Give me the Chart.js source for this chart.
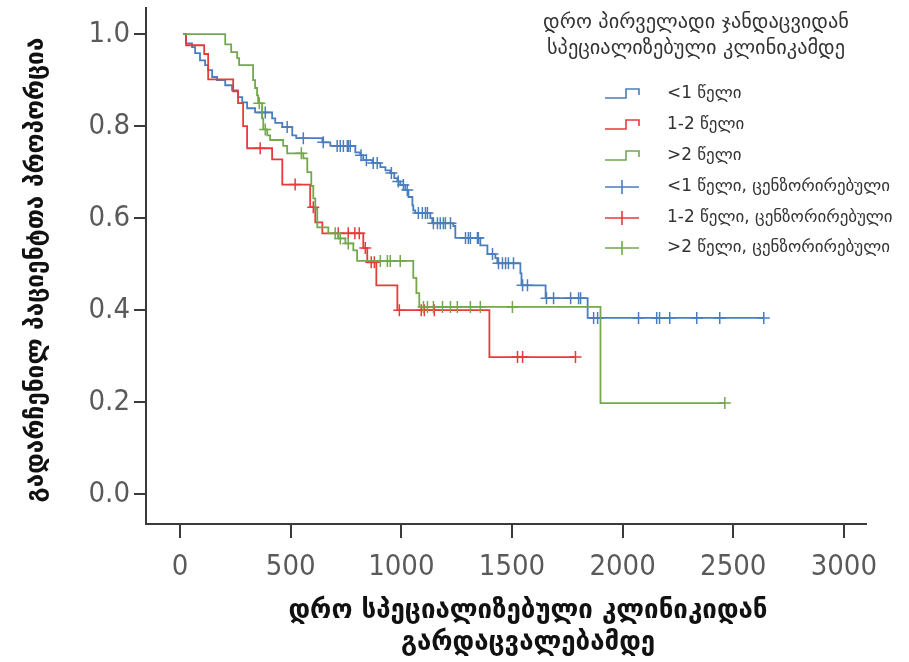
<!DOCTYPE html>
<html>
<head>
<meta charset="utf-8">
<script src="https://cdn.jsdelivr.net/npm/chart.js@4.4.0/dist/chart.umd.min.js"></script>
<style>
html,body{margin:0;padding:0;background:#ffffff;}
#wrap{width:909px;height:662px;position:relative;}
</style>
</head>
<body>
<div id="wrap"><canvas id="c" width="909" height="662"></canvas></div>
<script>
// ---------- text ----------
const yAxisTitle = 'გადარჩენილ პაციენტთა პროპორცია';
const xAxisTitle = ['დრო სპეციალიზებული კლინიკიდან', 'გარდაცვალებამდე'];
const legendTitle = ['დრო პირველადი ჯანდაცვიდან', 'სპეციალიზებული კლინიკამდე'];
const groupNames = ['<1 წელი', '1-2 წელი', '>2 წელი'];
const censorNames = ['<1 წელი, ცენზორირებული', '1-2 წელი, ცენზორირებული', '>2 წელი, ცენზორირებული'];

// ---------- ticks ----------
const xTickValues = [0, 500, 1000, 1500, 2000, 2500, 3000];
const yTickValues = [0, 0.2, 0.4, 0.6, 0.8, 1.0];

// ---------- <1 year ----------
const lt1Times = [14, 27, 54, 68, 90, 113, 127, 145, 167, 204, 235, 262, 281, 303, 339, 416, 430, 462, 507, 525, 643, 679, 792, 814, 828, 869, 905, 928, 950, 968, 982, 995, 1018, 1032, 1050, 1054, 1063, 1131, 1140, 1235, 1244, 1357, 1389, 1425, 1434, 1538, 1543, 1652, 1842, 2638];
const lt1Surv = [1.0, 0.980, 0.972, 0.959, 0.943, 0.933, 0.922, 0.907, 0.900, 0.889, 0.878, 0.863, 0.852, 0.839, 0.830, 0.817, 0.807, 0.798, 0.780, 0.774, 0.765, 0.757, 0.743, 0.737, 0.726, 0.720, 0.711, 0.704, 0.698, 0.687, 0.680, 0.672, 0.661, 0.646, 0.628, 0.617, 0.611, 0.600, 0.589, 0.583, 0.557, 0.541, 0.522, 0.513, 0.502, 0.480, 0.454, 0.426, 0.383, 0.383];
const lt1CensorTimes = [371, 385, 484, 557, 647, 710, 724, 738, 756, 760, 769, 818, 842, 873, 891, 955, 986, 1009, 1027, 1077, 1095, 1109, 1118, 1145, 1163, 1176, 1190, 1199, 1222, 1290, 1303, 1312, 1344, 1348, 1412, 1439, 1457, 1471, 1484, 1507, 1548, 1570, 1656, 1688, 1765, 1801, 1810, 1869, 1887, 2072, 2154, 2167, 2213, 2335, 2439, 2638];
const lt1CensorSurv = [0.830, 0.830, 0.798, 0.774, 0.765, 0.757, 0.757, 0.757, 0.757, 0.757, 0.757, 0.737, 0.726, 0.720, 0.720, 0.698, 0.680, 0.672, 0.661, 0.611, 0.611, 0.611, 0.611, 0.589, 0.589, 0.589, 0.589, 0.589, 0.589, 0.557, 0.557, 0.557, 0.557, 0.557, 0.522, 0.502, 0.502, 0.502, 0.502, 0.502, 0.454, 0.454, 0.426, 0.426, 0.426, 0.426, 0.426, 0.383, 0.383, 0.383, 0.383, 0.383, 0.383, 0.383, 0.383, 0.383];

// ---------- 1-2 years ----------
const y12Times = [14, 27, 109, 127, 240, 262, 285, 303, 416, 462, 588, 611, 643, 828, 846, 887, 982, 1398, 1787];
const y12Surv = [1.0, 0.976, 0.957, 0.902, 0.876, 0.850, 0.800, 0.752, 0.728, 0.673, 0.624, 0.591, 0.567, 0.535, 0.504, 0.454, 0.400, 0.298, 0.298];
const y12CensorTimes = [362, 520, 602, 715, 760, 790, 810, 837, 864, 878, 991, 1090, 1104, 1149, 1525, 1548, 1787];
const y12CensorSurv = [0.752, 0.673, 0.624, 0.567, 0.567, 0.567, 0.567, 0.535, 0.504, 0.504, 0.400, 0.400, 0.400, 0.400, 0.298, 0.298, 0.298];

// ---------- >2 years ----------
const gt2Times = [14, 204, 231, 258, 267, 330, 339, 348, 353, 371, 376, 394, 407, 466, 484, 557, 575, 593, 602, 611, 620, 670, 715, 747, 783, 800, 1054, 1068, 1081, 1900, 2462];
const gt2Surv = [1.0, 0.978, 0.961, 0.948, 0.933, 0.900, 0.883, 0.867, 0.850, 0.817, 0.793, 0.780, 0.770, 0.757, 0.741, 0.730, 0.700, 0.670, 0.643, 0.620, 0.580, 0.567, 0.556, 0.545, 0.530, 0.507, 0.470, 0.437, 0.407, 0.198, 0.198];
const gt2CensorTimes = [358, 385, 548, 701, 724, 760, 905, 937, 950, 995, 1100, 1118, 1145, 1186, 1222, 1253, 1312, 1357, 1502, 2462];
const gt2CensorSurv = [0.850, 0.793, 0.741, 0.567, 0.556, 0.545, 0.507, 0.507, 0.507, 0.507, 0.407, 0.407, 0.407, 0.407, 0.407, 0.407, 0.407, 0.407, 0.407, 0.198];

// ---------- styling ----------
const colors = ['#4a7dbd', '#e53b3b', '#74a84c'];
const tickFamily = "'DejaVu Sans Condensed', 'DejaVu Sans', sans-serif";
const textFamily = "'DejaVu Sans', sans-serif";

function pts(xs, ys) { return xs.map((x, i) => ({ x: x, y: ys[i] })); }

const curveSets = [[lt1Times, lt1Surv], [y12Times, y12Surv], [gt2Times, gt2Surv]];
const censorSets = [[lt1CensorTimes, lt1CensorSurv], [y12CensorTimes, y12CensorSurv], [gt2CensorTimes, gt2CensorSurv]];

const datasets = [];
curveSets.forEach((s, i) => {
  datasets.push({
    label: groupNames[i],
    data: pts(s[0], s[1]),
    borderColor: colors[i],
    backgroundColor: colors[i],
    borderWidth: 1.8,
    stepped: 'before',
    pointRadius: 0,
    fill: false,
    order: 3 - i
  });
});
censorSets.forEach((s, i) => {
  datasets.push({
    label: censorNames[i],
    data: pts(s[0], s[1]),
    borderColor: colors[i],
    backgroundColor: colors[i],
    showLine: false,
    pointStyle: 'cross',
    pointRadius: 6,
    pointBorderWidth: 1.5,
    order: 3 - i
  });
});

const decor = {
  id: 'decor',
  afterDraw(chart) {
    const ctx = chart.ctx;
    ctx.save();
    function fit(text, weight, target) {
      ctx.font = weight + ' 20px ' + textFamily;
      const w = ctx.measureText(text).width;
      return 20 * target / w;
    }
    // legend title
    ctx.fillStyle = '#333333';
    ctx.textAlign = 'center';
    ctx.textBaseline = 'middle';
    const ltSize = fit(legendTitle[0], 'normal', 306);
    ctx.font = 'normal ' + ltSize.toFixed(2) + 'px ' + textFamily;
    ctx.fillText(legendTitle[0], 696, 23);
    ctx.fillText(legendTitle[1], 696, 49);

    // legend items
    const itemSize = fit(censorNames[0], 'normal', 223);
    ctx.font = 'normal ' + itemSize.toFixed(2) + 'px ' + textFamily;
    ctx.textAlign = 'left';
    const rowY = [94, 125, 156, 187, 218, 248];
    const ds = chart.data.datasets;
    ds.forEach((d, i) => {
      const y = rowY[i];
      ctx.strokeStyle = d.borderColor;
      ctx.lineWidth = 1.6;
      ctx.beginPath();
      if (d.showLine === false) {
        ctx.moveTo(605, y); ctx.lineTo(639, y);
        ctx.moveTo(622, y - 7); ctx.lineTo(622, y + 7);
      } else {
        ctx.moveTo(605, y + 4); ctx.lineTo(626, y + 4); ctx.lineTo(626, y - 5);
        ctx.lineTo(639, y - 5); ctx.lineTo(639, y + 1);
      }
      ctx.stroke();
      ctx.fillStyle = '#333333';
      ctx.fillText(d.label, 667, y);
    });

    // x title
    ctx.fillStyle = '#111111';
    ctx.textAlign = 'center';
    const xs = fit(xAxisTitle[0], 'bold', 479);
    ctx.font = 'bold ' + xs.toFixed(2) + 'px ' + textFamily;
    ctx.fillText(xAxisTitle[0], 528, 611);
    ctx.fillText(xAxisTitle[1], 528, 643);

    // y title
    const ys = fit(yAxisTitle, 'bold', 465);
    ctx.font = 'bold ' + ys.toFixed(2) + 'px ' + textFamily;
    ctx.translate(37, 270);
    ctx.rotate(-Math.PI / 2);
    ctx.fillText(yAxisTitle, 0, 0);
    ctx.restore();
  }
};

new Chart(document.getElementById('c'), {
  type: 'line',
  data: { datasets: datasets },
  plugins: [decor],
  options: {
    responsive: false,
    animation: false,
    events: [],
    layout: { padding: { left: 0, top: 8, right: 43, bottom: 0 } },
    plugins: { legend: { display: false }, tooltip: { enabled: false }, title: { display: false } },
    scales: {
      x: {
        type: 'linear',
        min: -154,
        max: 3100,
        afterBuildTicks: (s) => { s.ticks = xTickValues.map(v => ({ value: v })); },
        afterFit: (s) => { s.height = 138; s.paddingLeft = 0; s.paddingRight = 0; },
        grid: { display: true, drawOnChartArea: false, drawTicks: true, tickLength: 14, color: '#3a3a3a', lineWidth: 2 },
        border: { display: true, color: '#3a3a3a', width: 2 },
        ticks: { color: '#5a5a5a', font: { family: tickFamily, size: 29, lineHeight: 1.2 }, padding: 12, maxRotation: 0, autoSkip: false, callback: (v) => String(v) }
      },
      y: {
        type: 'linear',
        min: -0.065,
        max: 1.057,
        afterBuildTicks: (s) => { s.ticks = yTickValues.map(v => ({ value: v })); },
        afterFit: (s) => { s.width = 146; s.paddingTop = 0; s.paddingBottom = 0; },
        grid: { display: true, drawOnChartArea: false, drawTicks: true, tickLength: 12, color: '#3a3a3a', lineWidth: 2 },
        border: { display: true, color: '#3a3a3a', width: 2 },
        ticks: { color: '#5a5a5a', font: { family: tickFamily, size: 29 }, padding: 4, autoSkip: false, callback: (v) => Number(v).toFixed(1) }
      }
    }
  }
});
</script>
</body>
</html>
